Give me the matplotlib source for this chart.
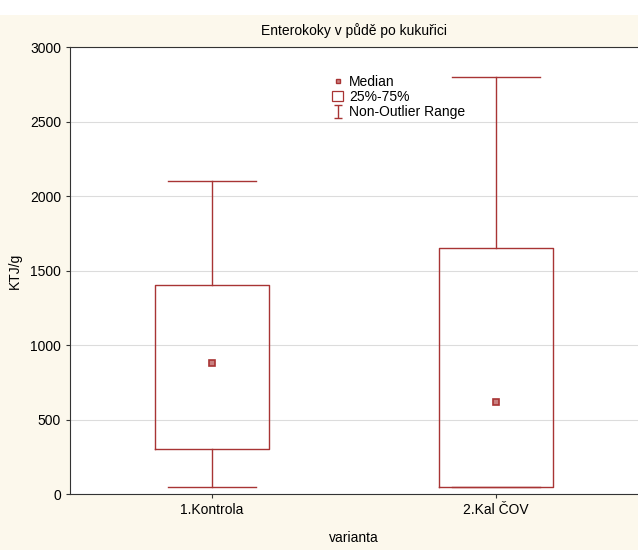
import numpy as np
import matplotlib.pyplot as plt
from matplotlib.patches import Patch, Rectangle
from matplotlib.lines import Line2D

plt.rcParams['font.family'] = ['Liberation Sans', 'DejaVu Sans']

# Box plot values (KTJ/g)
categories = ['1.Kontrola', '2.Kal ČOV']
medians = [880, 620]
q1 = [300, 50]
q3 = [1400, 1650]
whisker_lo = [50, 50]
whisker_hi = [2100, 2800]

red = '#a83434'

fig = plt.figure(figsize=(6.38, 5.5), dpi=100)
fig.patch.set_facecolor('#fcf8ec')
# white strip along the top edge, as in the scanned original
fig.add_artist(Rectangle((0, 0.973), 1, 0.027, transform=fig.transFigure,
                         facecolor='white', edgecolor='none'))
ax = fig.add_axes([0.1097, 0.1018, 0.8903, 0.8127])
ax.set_facecolor('white')

stats = []
for i in range(len(categories)):
    stats.append({'med': medians[i], 'q1': q1[i], 'q3': q3[i],
                  'whislo': whisker_lo[i], 'whishi': whisker_hi[i],
                  'fliers': [], 'label': categories[i]})

pos = np.arange(1, len(categories) + 1)
ax.bxp(stats, positions=pos, widths=0.4, showfliers=False,
       boxprops=dict(color=red, linewidth=1.0),
       whiskerprops=dict(color=red, linewidth=1.0),
       capprops=dict(color=red, linewidth=1.0),
       medianprops=dict(linestyle='none'),
       capwidths=0.31)
ax.plot(pos, medians, linestyle='none', marker='s', markersize=4.5,
        markerfacecolor='#c98080', markeredgecolor=red, markeredgewidth=1.2)

ax.set_xlim(0.5, 2.5)
ax.set_ylim(0, 3000)
ax.set_yticks(np.arange(0, 3001, 500))
ax.set_xticks(pos)
ax.set_xticklabels(categories)
ax.yaxis.grid(True, color='#dcdcdc', linewidth=0.8)
ax.set_axisbelow(True)
ax.tick_params(labelsize=10, length=3, color='#333333')
for s in ['left', 'bottom', 'top']:
    ax.spines[s].set_color('#333333')
ax.spines['right'].set_visible(False)

ax.set_title('Enterokoky v půdě po kukuřici', fontsize=10, pad=9)
ax.set_ylabel('KTJ/g', fontsize=10, labelpad=6)
ax.set_xlabel('varianta', fontsize=10, labelpad=10)

eb = ax.errorbar([np.nan], [np.nan], yerr=[[1], [1]], fmt='none',
                 ecolor=red, elinewidth=1.0, capsize=3)
handles = [Line2D([], [], linestyle='none', marker='s', markersize=3.5,
                  markerfacecolor='#c98080', markeredgecolor=red),
           Patch(facecolor='white', edgecolor=red, linewidth=0.9),
           eb]
leg = fig.legend(handles, ['Median', '25%-75%', 'Non-Outlier Range'],
                 loc='upper left', bbox_to_anchor=(0.51, 0.877),
                 frameon=False, fontsize=10, handlelength=0.8,
                 handletextpad=0.4, labelspacing=0.1, borderpad=0)

fig.savefig('out.png', dpi=100, facecolor=fig.get_facecolor())
